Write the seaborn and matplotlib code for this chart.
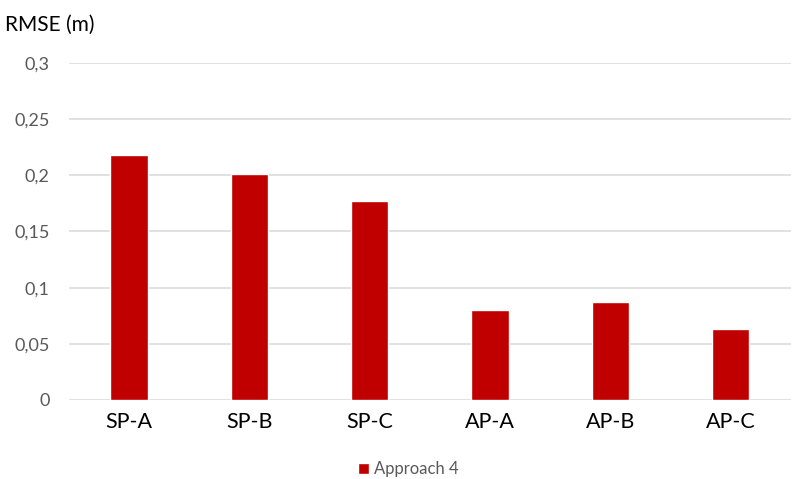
import numpy as np
import pandas as pd
import matplotlib
matplotlib.use("Agg")
import matplotlib.pyplot as plt
from matplotlib.ticker import FuncFormatter, MultipleLocator
import seaborn as sns

# values
categories = ["SP-A", "SP-B", "SP-C", "AP-A", "AP-B", "AP-C"]
rmse = [0.218, 0.201, 0.177, 0.080, 0.087, 0.063]
series = "Approach 4"

df = pd.DataFrame({"case": categories, "rmse": rmse, "series": series})

sns.set_theme(style="white")
plt.rcParams["font.family"] = ["Lato", "DejaVu Sans"]

fig = plt.figure(figsize=(8, 4.79), dpi=100)
ax = fig.add_axes([0.08625, 0.165, 0.902, 0.7035])

sns.barplot(data=df, x="case", y="rmse", hue="series", palette=["#C00000"],
            width=0.31, saturation=1, ax=ax, zorder=3)

ax.set_ylim(0, 0.3)
ax.set_xlim(-0.5, len(categories) - 0.5)
ax.yaxis.set_major_locator(MultipleLocator(0.05))
ax.yaxis.set_major_formatter(FuncFormatter(lambda v, p: f"{v:g}".replace(".", ",")))
ax.grid(axis="y", color="#D9D9D9", lw=1.1, zorder=0)
ax.set_axisbelow(True)
for s in ax.spines.values():
    s.set_visible(False)

ax.set_xlabel("")
ax.set_ylabel("")
ax.tick_params(axis="y", labelsize=13, colors="#595959", length=0, pad=14)
ax.tick_params(axis="x", labelsize=15.5, colors="black", length=0, pad=9)

fig.text(0.006, 0.948, "RMSE (m)", fontsize=15, color="black", va="center", ha="left")

sns.move_legend(ax, "lower center", bbox_to_anchor=(0.51, -0.027), bbox_transform=fig.transFigure,
                frameon=False, title=None, fontsize=12, handlelength=0.65, handleheight=0.65,
                handletextpad=0.3)
for t in ax.get_legend().get_texts():
    t.set_color("#595959")

plt.savefig("out.png", dpi=100)
plt.close()
